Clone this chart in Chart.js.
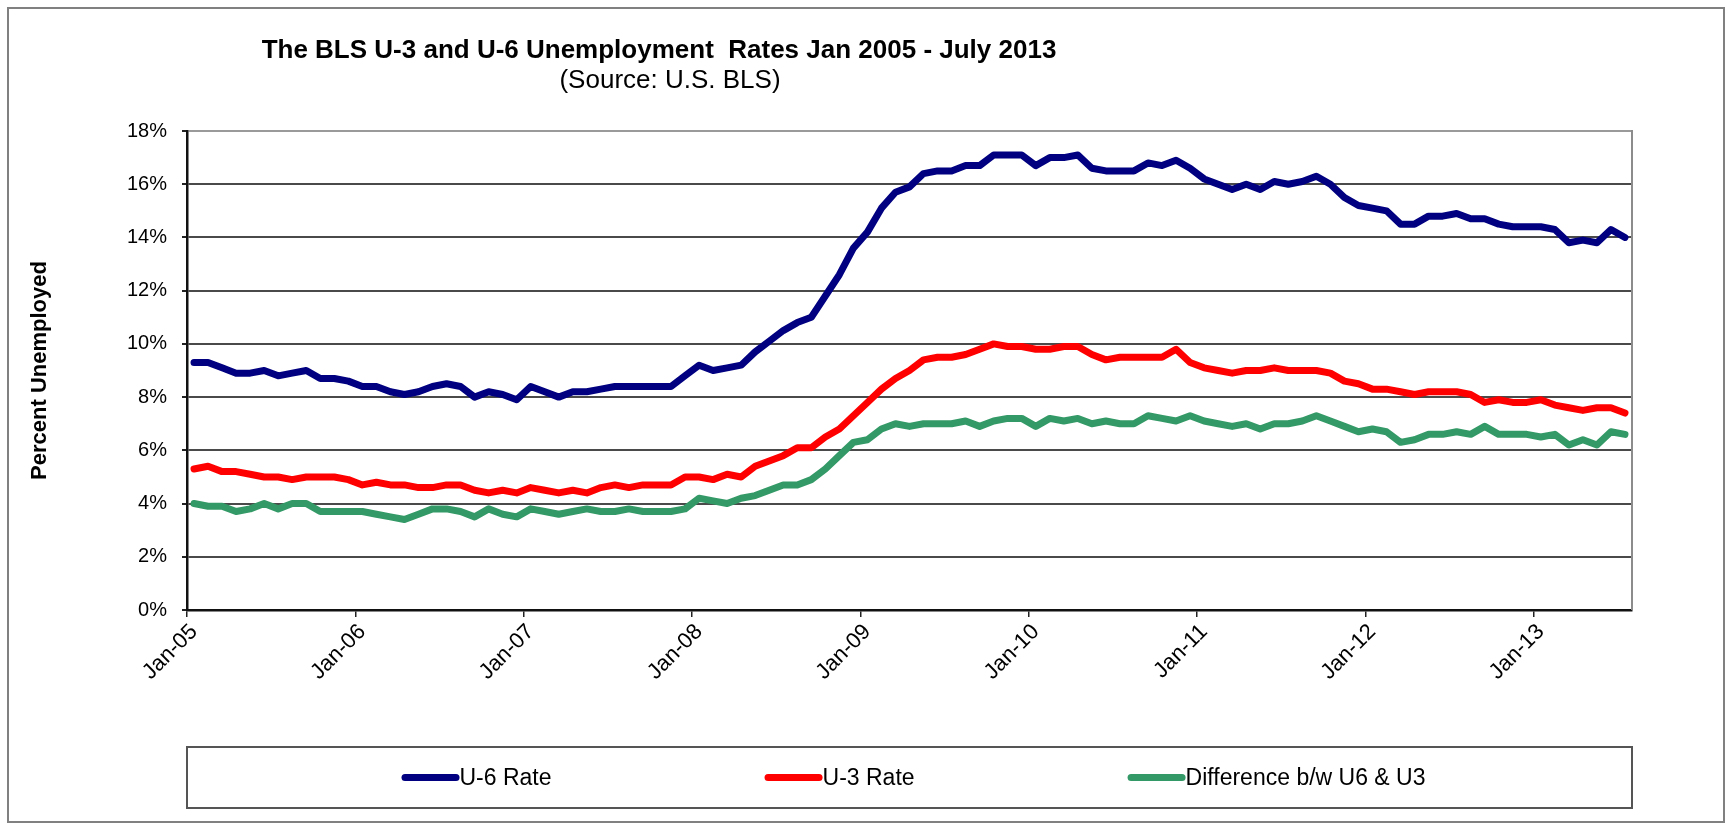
<!DOCTYPE html>
<html>
<head>
<meta charset="utf-8">
<title>BLS U-3 and U-6 Unemployment Rates</title>
<script src="https://cdn.jsdelivr.net/npm/chart.js@4.4.0/dist/chart.umd.min.js"></script>
<style>
  html, body { margin: 0; padding: 0; background: #fff; }
  #wrap { width: 1732px; height: 827px; }
</style>
</head>
<body>
<div id="wrap"><canvas id="lineChart" width="1732" height="827"></canvas></div>
<script>
// monthly categories, Jan-05 .. Jul-13
const years = ['05', '06', '07', '08', '09', '10', '11', '12', '13'];
const monthNames = ['Jan', 'Feb', 'Mar', 'Apr', 'May', 'Jun', 'Jul', 'Aug', 'Sep', 'Oct', 'Nov', 'Dec'];
const months = [];
years.forEach((y) => monthNames.forEach((m) => months.push(m + '-' + y)));
months.length = 103;

// labels shown under the x axis (one per year)
const tickLabels = ['Jan-05', 'Jan-06', 'Jan-07', 'Jan-08', 'Jan-09', 'Jan-10', 'Jan-11', 'Jan-12', 'Jan-13'];

// U-6 rate, %
const u6Rate = [
  9.3, 9.3, 9.1, 8.9, 8.9, 9.0, 8.8, 8.9, 9.0, 8.7, 8.7, 8.6,
  8.4, 8.4, 8.2, 8.1, 8.2, 8.4, 8.5, 8.4, 8.0, 8.2, 8.1, 7.9,
  8.4, 8.2, 8.0, 8.2, 8.2, 8.3, 8.4, 8.4, 8.4, 8.4, 8.4, 8.8,
  9.2, 9.0, 9.1, 9.2, 9.7, 10.1, 10.5, 10.8, 11.0, 11.8, 12.6, 13.6,
  14.2, 15.1, 15.7, 15.9, 16.4, 16.5, 16.5, 16.7, 16.7, 17.1, 17.1, 17.1,
  16.7, 17.0, 17.0, 17.1, 16.6, 16.5, 16.5, 16.5, 16.8, 16.7, 16.9, 16.6,
  16.2, 16.0, 15.8, 16.0, 15.8, 16.1, 16.0, 16.1, 16.3, 16.0, 15.5, 15.2,
  15.1, 15.0, 14.5, 14.5, 14.8, 14.8, 14.9, 14.7, 14.7, 14.5, 14.4, 14.4,
  14.4, 14.3, 13.8, 13.9, 13.8, 14.3, 14.0
];

// U-3 rate, %
const u3Rate = [
  5.3, 5.4, 5.2, 5.2, 5.1, 5.0, 5.0, 4.9, 5.0, 5.0, 5.0, 4.9,
  4.7, 4.8, 4.7, 4.7, 4.6, 4.6, 4.7, 4.7, 4.5, 4.4, 4.5, 4.4,
  4.6, 4.5, 4.4, 4.5, 4.4, 4.6, 4.7, 4.6, 4.7, 4.7, 4.7, 5.0,
  5.0, 4.9, 5.1, 5.0, 5.4, 5.6, 5.8, 6.1, 6.1, 6.5, 6.8, 7.3,
  7.8, 8.3, 8.7, 9.0, 9.4, 9.5, 9.5, 9.6, 9.8, 10.0, 9.9, 9.9,
  9.8, 9.8, 9.9, 9.9, 9.6, 9.4, 9.5, 9.5, 9.5, 9.5, 9.8, 9.3,
  9.1, 9.0, 8.9, 9.0, 9.0, 9.1, 9.0, 9.0, 9.0, 8.9, 8.6, 8.5,
  8.3, 8.3, 8.2, 8.1, 8.2, 8.2, 8.2, 8.1, 7.8, 7.9, 7.8, 7.8,
  7.9, 7.7, 7.6, 7.5, 7.6, 7.6, 7.4
];

// gap between the two, %
const gapRate = [
  4.0, 3.9, 3.9, 3.7, 3.8, 4.0, 3.8, 4.0, 4.0, 3.7, 3.7, 3.7,
  3.7, 3.6, 3.5, 3.4, 3.6, 3.8, 3.8, 3.7, 3.5, 3.8, 3.6, 3.5,
  3.8, 3.7, 3.6, 3.7, 3.8, 3.7, 3.7, 3.8, 3.7, 3.7, 3.7, 3.8,
  4.2, 4.1, 4.0, 4.2, 4.3, 4.5, 4.7, 4.7, 4.9, 5.3, 5.8, 6.3,
  6.4, 6.8, 7.0, 6.9, 7.0, 7.0, 7.0, 7.1, 6.9, 7.1, 7.2, 7.2,
  6.9, 7.2, 7.1, 7.2, 7.0, 7.1, 7.0, 7.0, 7.3, 7.2, 7.1, 7.3,
  7.1, 7.0, 6.9, 7.0, 6.8, 7.0, 7.0, 7.1, 7.3, 7.1, 6.9, 6.7,
  6.8, 6.7, 6.3, 6.4, 6.6, 6.6, 6.7, 6.6, 6.9, 6.6, 6.6, 6.6,
  6.5, 6.6, 6.2, 6.4, 6.2, 6.7, 6.6
];

const FONT = "'Liberation Sans', Arial, sans-serif";

// white page, outer frame, title lines, plot's right edge
const framePlugin = {
  id: 'frame',
  beforeDraw(chart) {
    const ctx = chart.ctx;
    ctx.save();
    ctx.fillStyle = '#fff';
    ctx.fillRect(0, 0, chart.width, chart.height);
    ctx.strokeStyle = '#808080';
    ctx.lineWidth = 2;
    ctx.strokeRect(8, 8, chart.width - 16, chart.height - 13);

    ctx.fillStyle = '#000';
    ctx.textAlign = 'center';
    ctx.textBaseline = 'middle';
    ctx.font = 'bold 26px ' + FONT;
    ctx.fillText('The BLS U-3 and U-6 Unemployment  Rates Jan 2005 - July 2013', 659, 51);
    ctx.font = '26px ' + FONT;
    ctx.fillText('(Source: U.S. BLS)', 670, 81);
    ctx.restore();
  },
  beforeDatasetsDraw(chart) {
    const {ctx, chartArea} = chart;
    ctx.save();
    ctx.strokeStyle = '#8c8c8c';
    ctx.lineWidth = 2;
    ctx.beginPath();
    ctx.moveTo(chartArea.right, chartArea.top - 1);
    ctx.lineTo(chartArea.right, chartArea.bottom);
    ctx.stroke();
    ctx.restore();
  }
};

// boxed legend under the axis labels
const legendBoxPlugin = {
  id: 'legendBox',
  afterDraw(chart) {
    const {ctx, chartArea} = chart;
    const top = chartArea.bottom + 137;
    const h = 61;
    const left = chartArea.left;
    const right = chartArea.right;
    ctx.save();
    ctx.strokeStyle = '#555';
    ctx.lineWidth = 2;
    ctx.strokeRect(left, top, right - left, h);

    ctx.font = '23px ' + FONT;
    ctx.textBaseline = 'middle';
    ctx.textAlign = 'left';
    const lineLen = 58;
    const gap = 213;
    const items = chart.data.datasets.map((ds) => ({
      ds, w: lineLen + ctx.measureText(ds.label).width
    }));
    const total = items.reduce((s, it) => s + it.w, 0) + gap * (items.length - 1);
    let x = (left + right) / 2 - total / 2 + 4;
    const y = top + h / 2;
    items.forEach((it) => {
      ctx.strokeStyle = it.ds.borderColor;
      ctx.lineWidth = 7;
      ctx.lineCap = 'round';
      ctx.beginPath();
      ctx.moveTo(x + 3.5, y);
      ctx.lineTo(x + lineLen - 3.5, y);
      ctx.stroke();
      ctx.fillStyle = '#000';
      ctx.fillText(it.ds.label, x + lineLen, y + 1);
      x += it.w + gap;
    });
    ctx.restore();
  }
};

const lineStyle = {
  fill: false,
  borderWidth: 7,
  pointRadius: 0,
  pointHoverRadius: 0,
  tension: 0,
  borderJoinStyle: 'round',
  borderCapStyle: 'round'
};

new Chart(document.getElementById('lineChart').getContext('2d'), {
  type: 'line',
  data: {
    labels: months,
    datasets: [
      Object.assign({label: 'U-6 Rate', data: u6Rate, borderColor: '#000080', backgroundColor: '#000080'}, lineStyle),
      Object.assign({label: 'U-3 Rate', data: u3Rate, borderColor: '#ff0000', backgroundColor: '#ff0000'}, lineStyle),
      Object.assign({label: 'Difference b/w U6 & U3', data: gapRate, borderColor: '#339966', backgroundColor: '#339966'}, lineStyle)
    ]
  },
  options: {
    responsive: false,
    animation: false,
    events: [],
    layout: {
      padding: {left: 27, right: 100, top: 131, bottom: 117}
    },
    plugins: {
      legend: {display: false},
      title: {display: false},
      tooltip: {enabled: false}
    },
    scales: {
      x: {
        type: 'category',
        offset: true,
        afterFit(scale) { scale.height = 100; },
        border: {display: true, color: '#111', width: 2.5},
        grid: {
          offset: true,
          drawOnChartArea: false,
          tickLength: 7,
          lineWidth: 1.5,
          tickColor: (c) => (c.index % 12 === 0 ? '#222' : 'rgba(0,0,0,0)')
        },
        ticks: {
          autoSkip: false,
          minRotation: 45,
          maxRotation: 45,
          padding: 2,
          color: '#000',
          font: {family: FONT, size: 22},
          callback: (v, i) => (i % 12 === 0 ? tickLabels[i / 12] : '')
        }
      },
      y: {
        min: 0,
        max: 18,
        afterFit(scale) { scale.width = 187 - 27; },
        border: {display: true, color: '#111', width: 2.5},
        grid: {
          color: (c) => (c.tick && c.tick.value === 18 ? '#9a9a9a' : '#4a4a4a'),
          lineWidth: 2,
          tickLength: 5,
          tickColor: '#222'
        },
        ticks: {
          stepSize: 2,
          padding: 15,
          color: '#000',
          font: {family: FONT, size: 20},
          callback: (v) => v + '%'
        },
        title: {
          display: true,
          text: 'Percent Unemployed',
          color: '#000',
          padding: {top: 0, bottom: 0},
          font: {family: FONT, size: 22, weight: 'bold'}
        }
      }
    }
  },
  plugins: [framePlugin, legendBoxPlugin]
});
</script>
</body>
</html>
